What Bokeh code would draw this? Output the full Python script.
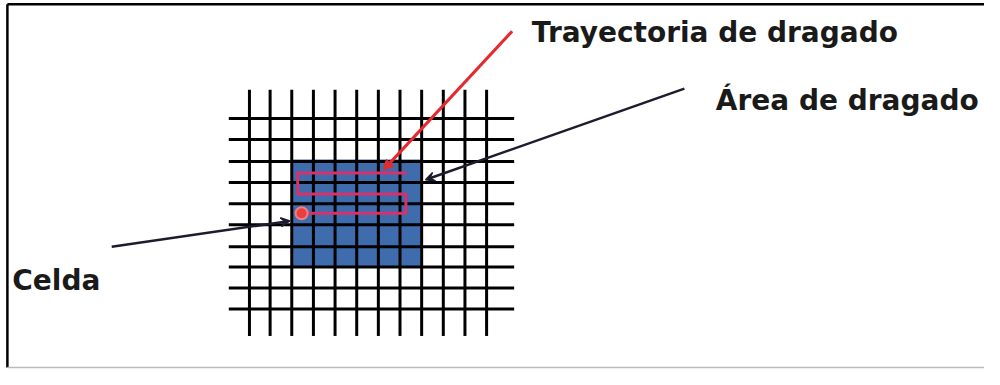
from bokeh.plotting import figure
from bokeh.models import Range1d, Arrow, NormalHead, VeeHead
from bokeh.core.properties import value
from bokeh.embed import file_html
from bokeh.resources import INLINE

# --- diagram data (reference-image pixel coordinates) ---
grid_vertical_x = [253, 274, 296, 318, 340, 362, 384, 406, 428, 450, 472, 494]
grid_vertical_y0 = 93
grid_vertical_y1 = 350
grid_horizontal_y = [123, 145, 168, 190, 212, 234, 257, 278, 300, 322]
grid_horizontal_x0 = 232
grid_horizontal_x1 = 522

dredge_area = dict(left=297, right=427, top=166, bottom=277)

trajectory_x = [306, 412, 412, 302, 302, 413]
trajectory_y = [222, 222, 202, 202, 180, 180]

labels = ["Trayectoria de dragado", "Área de dragado", "Celda"]
label_x = [540, 727, 12]
label_y = [33, 104, 292]

# arrows: (start_x, start_y, end_x, end_y)
arrow_trajectory = (520, 32, 389, 177)
arrow_area = (695, 92, 432, 187)
arrow_cell = (113, 257, 294, 230)

frame_left_x = 7
frame_top_y = 4
frame_bottom_y = 383

p = figure(width=984, height=369, x_range=Range1d(0, 1000), y_range=Range1d(385, 0),
           output_backend="svg", toolbar_location=None, min_border=0)
p.axis.visible = False
p.grid.visible = False
p.outline_line_color = None
p.background_fill_color = "white"
p.border_fill_color = "white"

# frame (left, top, faint bottom)
p.segment(x0=[frame_left_x, frame_left_x], y0=[frame_top_y, frame_top_y],
          x1=[frame_left_x, 1000], y1=[frame_bottom_y, frame_top_y],
          line_color="black", line_width=2.5)
p.segment(x0=[frame_left_x], y0=[frame_bottom_y], x1=[1000], y1=[frame_bottom_y],
          line_color="#bbbbbb", line_width=1.5)

# dredging area
p.quad(left=[dredge_area["left"]], right=[dredge_area["right"]],
       top=[dredge_area["top"]], bottom=[dredge_area["bottom"]],
       fill_color="#3f6cad", line_color=None)

# grid
p.segment(x0=grid_vertical_x, x1=grid_vertical_x,
          y0=[grid_vertical_y0] * len(grid_vertical_x), y1=[grid_vertical_y1] * len(grid_vertical_x),
          line_color="black", line_width=3)
p.segment(x0=[grid_horizontal_x0] * len(grid_horizontal_y), x1=[grid_horizontal_x1] * len(grid_horizontal_y),
          y0=grid_horizontal_y, y1=grid_horizontal_y,
          line_color="black", line_width=3)

# trajectory
p.line(trajectory_x, trajectory_y, line_color="#d8306a", line_width=3, line_join="round")
p.scatter([trajectory_x[0]], [trajectory_y[0]], size=12, fill_color="#e8403f",
          line_color="#f08080", line_width=2)

# arrows
p.add_layout(Arrow(x_start=arrow_trajectory[0], y_start=arrow_trajectory[1],
                   x_end=arrow_trajectory[2], y_end=arrow_trajectory[3],
                   line_color="#e52a2f", line_width=3,
                   end=NormalHead(size=10, fill_color="#e52a2f", line_color="#e52a2f")))
p.add_layout(Arrow(x_start=arrow_area[0], y_start=arrow_area[1],
                   x_end=arrow_area[2], y_end=arrow_area[3],
                   line_color="#1c1c2e", line_width=2.5,
                   end=VeeHead(size=9, fill_color="#1c1c2e", line_color="#1c1c2e", line_width=1.5)))
p.add_layout(Arrow(x_start=arrow_cell[0], y_start=arrow_cell[1],
                   x_end=arrow_cell[2], y_end=arrow_cell[3],
                   line_color="#1c1c2e", line_width=2.5,
                   end=VeeHead(size=9, fill_color="#1c1c2e", line_color="#1c1c2e", line_width=1.5)))

# labels
p.text(x=label_x, y=label_y, text=labels, text_font=value("DejaVu Sans"),
       text_font_style="bold", text_font_size="28px", text_baseline="alphabetic",
       text_color="#1a1a1a")

open("out.html", "w").write(file_html(p, INLINE))
